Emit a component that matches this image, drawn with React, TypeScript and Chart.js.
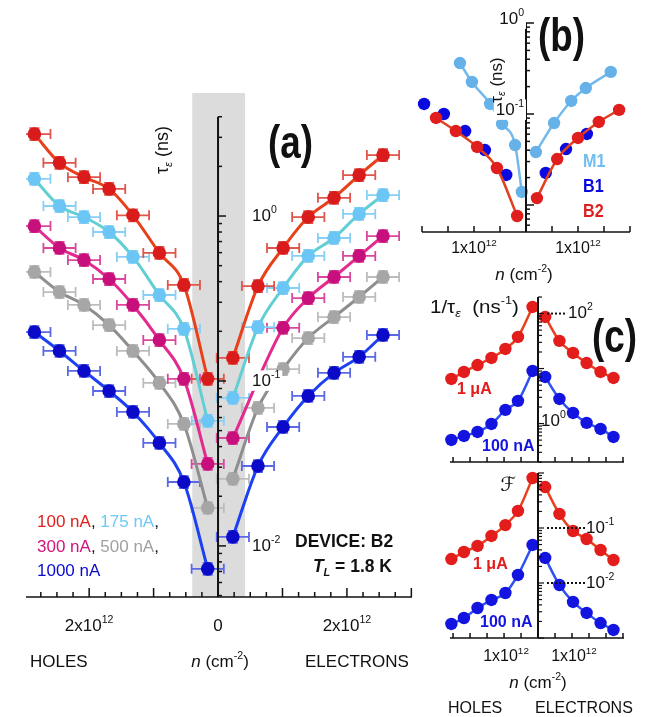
import React, { useEffect, useRef } from "react";
import { Chart, registerables } from "chart.js";
Chart.register(...registerables);

const W = 649;
const H = 717;
const FONT = '"Liberation Sans", Arial, Helvetica, sans-serif';

// ---------------- Panel (a): tau_e vs n, five currents ----------------
const A_X_HOLES = [-2.85, -2.46, -2.08, -1.69, -1.32, -0.91, -0.53, -0.16];
const A_X_ELECTRONS = [0.23, 0.62, 1.01, 1.4, 1.8, 2.19, 2.56];
const A_100NA_HOLES = [3.14, 2.1, 1.72, 1.46, 1.01, 0.597, 0.382, 0.103];
const A_100NA_ELECTRONS = [0.138, 0.376, 0.64, 0.986, 1.29, 1.77, 2.34];
const A_175NA_HOLES = [1.68, 1.15, 0.986, 0.8, 0.565, 0.332, 0.207, 0.0573];
const A_175NA_ELECTRONS = [0.0789, 0.212, 0.366, 0.573, 0.736, 1.03, 1.34];
const A_300NA_HOLES = [0.869, 0.64, 0.541, 0.415, 0.289, 0.177, 0.103, 0.0314];
const A_300NA_ELECTRONS = [0.0451, null, 0.21, 0.318, 0.427, 0.573, 0.756];
const A_500NA_HOLES = [0.458, 0.346, 0.289, 0.218, 0.152, 0.0973, 0.0549, 0.017];
const A_500NA_ELECTRONS = [0.0255, 0.0686, 0.118, 0.182, 0.244, 0.323, 0.427];
const A_1000NA_HOLES = [0.198, 0.152, 0.115, 0.0869, 0.0649, 0.0421, 0.0244, 0.00726];
const A_1000NA_ELECTRONS = [0.01134, 0.0305, 0.0526, 0.0811, 0.112, 0.14, 0.19];
const A_X_ERR = 0.25; // 1e12 cm^-2
const A_Y_ERR = 1.087; // multiplicative
const A_BAND = [-0.4, 0.42];
const A_X_RANGE = [-2.98, 3.01];
const A_Y_RANGE = [0.0049, 5.57];
const A_AXIS_TOP = 4;
const A_X_TICKS = [-2, 0, 2];
const A_Y_TICKS = [1, 0.1, 0.01];

// ---------------- Panel (b): tau_e for three devices ----------------
const B_M1_X_HOLES = [-1.27, -1.04, -0.69, -0.46, -0.21, -0.08];
const B_M1_HOLES = [0.363, 0.225, 0.129, 0.0777, 0.0456, 0.0139];
const B_M1_X_ELECTRONS = [0.19, 0.54, 0.87, 1.15, 1.63];
const B_M1_ELECTRONS = [0.0382, 0.0796, 0.139, 0.193, 0.29];
const B_B1_X_HOLES = [-1.96, -1.58, -1.17, -0.79, -0.38];
const B_B1_HOLES = [0.129, 0.1, 0.065, 0.0402, 0.0214];
const B_B1_X_ELECTRONS = [0.38, 0.77, 1.17];
const B_B1_ELECTRONS = [0.0225, 0.0412, 0.0603];
const B_B2_X_HOLES = [-1.73, -1.35, -0.94, -0.56, -0.17];
const B_B2_HOLES = [0.0904, 0.065, 0.0434, 0.0255, 0.00757];
const B_B2_X_ELECTRONS = [0.21, 0.6, 1.0, 1.4, 1.79];
const B_B2_ELECTRONS = [0.0119, 0.032, 0.0545, 0.0817, 0.111];
const B_X_RANGE = [-2, 2];
const B_Y_RANGE = [0.00505, 1];
const B_X_TICKS = [-1, 1];
const B_Y_TICKS = [1, 0.1];

// ---------------- Panel (c): 1/tau_e and F ----------------
const C_X_HOLES = [-2.55, -2.18, -1.78, -1.37, -0.96, -0.59, -0.16];
const C_X_ELECTRONS = [0.21, 0.63, 1.03, 1.43, 1.84, 2.22];
const C1_1UA_HOLES = [6.47, 8.67, 11.6, 15.6, 22.7, 37.5, 132];
const C1_1UA_ELECTRONS = [86.7, 31.8, 19.2, 12.6, 8.67, 6.75];
const C1_100NA_HOLES = [0.503, 0.595, 0.703, 0.983, 1.77, 2.58, 9.04];
const C1_100NA_ELECTRONS = [7.03, 2.8, 1.56, 1.03, 0.798, 0.571];
const C2_1UA_HOLES = [0.0273, 0.0366, 0.0471, 0.0716, 0.113, 0.204, 0.811];
const C2_1UA_ELECTRONS = [0.556, 0.18, 0.0882, 0.0631, 0.0398, 0.0262];
const C2_100NA_HOLES = [0.0018, 0.00231, 0.00351, 0.00491, 0.00658, 0.014, 0.0491];
const C2_100NA_ELECTRONS = [0.0285, 0.0092, 0.00452, 0.00285, 0.00187, 0.0014];
const C_X_RANGE = [-2.59, 2.53];
const C1_Y_RANGE = [0.2, 200];
const C2_Y_RANGE = [0.001, 1];
const C_X_TICKS = [-1, 1];
const C1_Y_TICKS = [100, 1];
const C2_Y_TICKS = [0.1, 0.01];

// ---------------- colours ----------------
const RED = { pt: "#da1b1b", ln: "#e8401a", eb: "#e0564c", txt: "#e0201c" };
const CYAN = { pt: "#6cc6f5", ln: "#62cfd4", eb: "#88cff6", txt: "#6ccaf5" };
const MAG = { pt: "#c8107c", ln: "#e32a8e", eb: "#d9489c", txt: "#d0147c" };
const GRAY = { pt: "#a6a6a6", ln: "#8e8e8e", eb: "#bdbdbd", txt: "#a0a0a0" };
const BLUE = { pt: "#0a0ac8", ln: "#1d40f2", eb: "#5a68e6", txt: "#0a0ad0" };
const M1C = { pt: "#66b2e8", ln: "#74b9ec", txt: "#72bdf0" };
const B1C = { pt: "#0a0ae0", txt: "#0a0ae0" };
const B2C = { pt: "#e01e1e", ln: "#e2401e", txt: "#e01e1e" };

// chart areas (page pixels)
const A_AREA = { l: 26, t: 93, r: 412, b: 597 };
const B_AREA = { l: 422, t: 23, r: 630, b: 232 };
const C1_AREA = { l: 450, t: 297, r: 624, b: 462 };
const C2_AREA = { l: 450, t: 473, r: 624, b: 638 };

type Seg = { t: string; sup?: boolean; sub?: boolean; italic?: boolean; bold?: boolean; color?: string; family?: string };
type RichOpts = { size: number; bold?: boolean; align?: "left" | "center" | "right"; sx?: number; color?: string; bg?: string; rotate?: number };

function rich(ctx: CanvasRenderingContext2D, segs: Seg[], x: number, y: number, o: RichOpts) {
  const fontFor = (s: Seg) => {
    const sz = s.sup || s.sub ? o.size * 0.62 : o.size;
    const b = s.bold ?? o.bold;
    return `${s.italic ? "italic " : ""}${b ? "bold " : ""}${sz}px ${s.family || FONT}`;
  };
  ctx.save();
  ctx.translate(x, y);
  if (o.rotate) ctx.rotate(o.rotate);
  ctx.scale(o.sx ?? 1, 1);
  ctx.textBaseline = "middle";
  ctx.textAlign = "left";
  let total = 0;
  const widths = segs.map((s) => {
    ctx.font = fontFor(s);
    const w = ctx.measureText(s.t).width;
    total += w;
    return w;
  });
  let cx = o.align === "center" ? -total / 2 : o.align === "right" ? -total : 0;
  if (o.bg) {
    ctx.fillStyle = o.bg;
    ctx.fillRect(cx - 2, -o.size * 0.62, total + 4, o.size * 1.2);
  }
  segs.forEach((s, i) => {
    ctx.font = fontFor(s);
    ctx.fillStyle = s.color || o.color || "#111";
    const dy = s.sup ? -o.size * 0.36 : s.sub ? o.size * 0.32 : 0;
    ctx.fillText(s.t, cx, dy);
    cx += widths[i];
  });
  ctx.restore();
}

const powSegs = (v: number): Seg[] => [{ t: "10" }, { t: String(Math.round(Math.log10(v))), sup: true }];
const xSegs = (v: number): Seg[] => (v === 0 ? [{ t: "0" }] : [{ t: `${Math.abs(v)}x10` }, { t: "12", sup: true }]);

function line(ctx: CanvasRenderingContext2D, x1: number, y1: number, x2: number, y2: number) {
  ctx.beginPath();
  ctx.moveTo(x1, y1);
  ctx.lineTo(x2, y2);
  ctx.stroke();
}

function series(xs: number[], ys: (number | null)[], pt: string, ln: string | null, radius: number, width: number, extra: any = {}) {
  return {
    data: xs.map((x, i) => ({ x, y: ys[i] })),
    showLine: !!ln,
    borderColor: ln || pt,
    borderWidth: width,
    backgroundColor: pt,
    pointBackgroundColor: pt,
    pointBorderColor: pt,
    pointBorderWidth: 0,
    pointRadius: radius,
    cubicInterpolationMode: "monotone",
    spanGaps: true,
    clip: false,
    ...extra,
  };
}

function baseConfig(area: any, xr: number[], yr: number[], datasets: any[], plugin: any) {
  return {
    type: "scatter",
    data: { datasets },
    options: {
      responsive: false,
      animation: false,
      devicePixelRatio: 1,
      events: [],
      layout: { padding: { left: area.l, top: area.t, right: W - area.r, bottom: H - area.b } },
      plugins: { legend: { display: false }, tooltip: { enabled: false }, title: { display: false } },
      scales: {
        x: { type: "linear", min: xr[0], max: xr[1], display: false },
        y: { type: "logarithmic", min: yr[0], max: yr[1], display: false },
      },
    },
    plugins: [plugin],
  };
}

// log ticks on the right of a vertical axis at x0
function logTicks(ctx: CanvasRenderingContext2D, y: any, x0: number, vmin: number, vmax: number, majLen: number, minLen: number) {
  for (let d = -4; d <= 3; d++) {
    for (let m = 1; m <= 9; m++) {
      const v = m * Math.pow(10, d);
      if (v < vmin * 0.999 || v > vmax * 1.001) continue;
      const py = y.getPixelForValue(v);
      line(ctx, x0, py, x0 + (m === 1 ? majLen : minLen), py);
    }
  }
}

function linTicks(ctx: CanvasRenderingContext2D, x: any, ca: any, step: number, majorEvery: number, majLen: number, minLen: number) {
  for (let k = -40; k <= 40; k++) {
    const v = k * step;
    const px = x.getPixelForValue(v);
    if (px < ca.left - 0.6 || px > ca.right + 0.6) continue;
    line(ctx, px, ca.bottom, px, ca.bottom - (k % majorEvery === 0 ? majLen : minLen));
  }
}

// ---------------- panel (a) ----------------
function configA() {
  const mk = (c: any, xs: number[], ys: (number | null)[]) => series(xs, ys, c.pt, c.ln, 6.8, 3, { errColor: c.eb });
  const datasets = [
    mk(GRAY, A_X_HOLES, A_500NA_HOLES),
    mk(GRAY, A_X_ELECTRONS, A_500NA_ELECTRONS),
    mk(BLUE, A_X_HOLES, A_1000NA_HOLES),
    mk(BLUE, A_X_ELECTRONS, A_1000NA_ELECTRONS),
    mk(MAG, A_X_HOLES, A_300NA_HOLES),
    mk(MAG, A_X_ELECTRONS, A_300NA_ELECTRONS),
    mk(CYAN, A_X_HOLES, A_175NA_HOLES),
    mk(CYAN, A_X_ELECTRONS, A_175NA_ELECTRONS),
    mk(RED, A_X_HOLES, A_100NA_HOLES),
    mk(RED, A_X_ELECTRONS, A_100NA_ELECTRONS),
  ];
  const plugin = {
    id: "panelA",
    beforeDatasetsDraw(chart: any) {
      const { ctx, chartArea: ca, scales } = chart;
      const x = scales.x, y = scales.y;
      ctx.save();
      ctx.fillStyle = "#dcdcdc";
      const b1 = x.getPixelForValue(A_BAND[0]);
      const b2 = x.getPixelForValue(A_BAND[1]);
      ctx.fillRect(b1, ca.top, b2 - b1, ca.bottom - ca.top);
      ctx.beginPath();
      ctx.rect(ca.left, 0, ca.right - ca.left, H);
      ctx.clip();
      chart.data.datasets.forEach((ds: any) => {
        ctx.strokeStyle = ds.errColor;
        ctx.lineWidth = 1.8;
        ds.data.forEach((p: any) => {
          if (p.y == null) return;
          const px = x.getPixelForValue(p.x), py = y.getPixelForValue(p.y);
          const xl = x.getPixelForValue(p.x - A_X_ERR), xr = x.getPixelForValue(p.x + A_X_ERR);
          const yt = y.getPixelForValue(p.y * A_Y_ERR), yb = y.getPixelForValue(p.y / A_Y_ERR);
          ctx.beginPath();
          ctx.moveTo(xl, py); ctx.lineTo(xr, py);
          ctx.moveTo(xl, py - 5); ctx.lineTo(xl, py + 5);
          ctx.moveTo(xr, py - 5); ctx.lineTo(xr, py + 5);
          ctx.moveTo(px, yt); ctx.lineTo(px, yb);
          ctx.moveTo(px - 5, yt); ctx.lineTo(px + 5, yt);
          ctx.moveTo(px - 5, yb); ctx.lineTo(px + 5, yb);
          ctx.stroke();
        });
      });
      ctx.restore();
    },
    afterDatasetsDraw(chart: any) {
      const { ctx, chartArea: ca, scales } = chart;
      const x = scales.x, y = scales.y;
      const x0 = x.getPixelForValue(0);
      ctx.save();
      ctx.strokeStyle = "#111";
      ctx.lineWidth = 1.5;
      line(ctx, ca.left, ca.bottom, ca.right, ca.bottom);
      linTicks(ctx, x, ca, 0.25, 4, 9, 5);
      ctx.lineWidth = 2;
      line(ctx, x0, y.getPixelForValue(A_AXIS_TOP), x0, ca.bottom);
      ctx.lineWidth = 1.5;
      logTicks(ctx, y, x0, A_Y_RANGE[0], A_AXIS_TOP, 8, 4);
      A_Y_TICKS.forEach((v) => rich(ctx, powSegs(v), x0 + 34, y.getPixelForValue(v), { size: 17, bg: "#fff" }));
      A_X_TICKS.forEach((v) => rich(ctx, xSegs(v), x.getPixelForValue(v), 626, { size: 17, align: "center" }));
      rich(ctx, [{ t: "HOLES" }], 30, 662, { size: 17 });
      rich(ctx, [{ t: "n", italic: true }, { t: " (cm" }, { t: "-2", sup: true }, { t: ")" }], x0 + 2, 662, { size: 17, align: "center" });
      rich(ctx, [{ t: "ELECTRONS" }], 305, 662, { size: 17 });
      rich(ctx, [{ t: "τ" }, { t: "ε", sub: true, italic: true }, { t: " (ns)" }], 163, 150, { size: 18, align: "center", rotate: -Math.PI / 2 });
      rich(ctx, [{ t: "(a)" }], 268, 145, { size: 46, bold: true, sx: 0.8 });
      rich(ctx, [{ t: "100 nA", color: RED.txt }, { t: ", " }, { t: "175 nA", color: CYAN.txt }, { t: "," }], 37, 522, { size: 17 });
      rich(ctx, [{ t: "300 nA", color: MAG.txt }, { t: ", " }, { t: "500 nA", color: GRAY.txt }, { t: "," }], 37, 547, { size: 17 });
      rich(ctx, [{ t: "1000 nA", color: BLUE.txt }], 37, 571, { size: 17 });
      rich(ctx, [{ t: "DEVICE: B2" }], 295, 542, { size: 17.5, bold: true });
      rich(ctx, [{ t: "T", italic: true }, { t: "L", sub: true, italic: true }, { t: " = 1.8 K" }], 392, 567, { size: 17.5, bold: true, align: "right" });
      ctx.restore();
    },
  };
  return baseConfig(A_AREA, A_X_RANGE, A_Y_RANGE, datasets, plugin);
}

// ---------------- panel (b) ----------------
function configB() {
  const datasets = [
    series(B_B2_X_HOLES, B_B2_HOLES, B2C.pt, B2C.ln, 6.2, 2.5),
    series(B_B2_X_ELECTRONS, B_B2_ELECTRONS, B2C.pt, B2C.ln, 6.2, 2.5),
    series(B_B1_X_HOLES, B_B1_HOLES, B1C.pt, null, 6.2, 0),
    series(B_B1_X_ELECTRONS, B_B1_ELECTRONS, B1C.pt, null, 6.2, 0),
    series(B_M1_X_HOLES, B_M1_HOLES, M1C.pt, M1C.ln, 6.2, 2.5),
    series(B_M1_X_ELECTRONS, B_M1_ELECTRONS, M1C.pt, M1C.ln, 6.2, 2.5),
  ];
  const plugin = {
    id: "panelB",
    afterDatasetsDraw(chart: any) {
      const { ctx, chartArea: ca, scales } = chart;
      const x = scales.x, y = scales.y;
      const x0 = x.getPixelForValue(0);
      ctx.save();
      ctx.strokeStyle = "#111";
      ctx.lineWidth = 1.5;
      line(ctx, ca.left, ca.bottom, ca.right, ca.bottom);
      linTicks(ctx, x, ca, 0.5, 1, 6, 6);
      ctx.lineWidth = 2;
      line(ctx, x0, ca.top, x0, ca.bottom);
      ctx.lineWidth = 1.5;
      logTicks(ctx, y, x0, B_Y_RANGE[0], B_Y_RANGE[1], 8, 4);
      B_Y_TICKS.forEach((v) => rich(ctx, powSegs(v), x0 - 2, y.getPixelForValue(v) - 4, { size: 17, align: "right", bg: "#fff" }));
      B_X_TICKS.forEach((v) => rich(ctx, xSegs(v), x.getPixelForValue(v), 249, { size: 16, align: "center" }));
      rich(ctx, [{ t: "n", italic: true }, { t: " (cm" }, { t: "-2", sup: true }, { t: ")" }], x0 - 2, 275, { size: 17, align: "center" });
      rich(ctx, [{ t: "τ" }, { t: "ε", sub: true, italic: true }, { t: " (ns)" }], 497, 80, { size: 17, align: "center", rotate: -Math.PI / 2 });
      rich(ctx, [{ t: "(b)" }], 538, 38, { size: 46, bold: true, sx: 0.8 });
      rich(ctx, [{ t: "M1", color: M1C.txt }], 583, 162, { size: 19, bold: true, sx: 0.85 });
      rich(ctx, [{ t: "B1", color: B1C.txt }], 583, 187, { size: 19, bold: true, sx: 0.85 });
      rich(ctx, [{ t: "B2", color: B2C.txt }], 583, 212, { size: 19, bold: true, sx: 0.85 });
      ctx.restore();
    },
  };
  return baseConfig(B_AREA, B_X_RANGE, B_Y_RANGE, datasets, plugin);
}

// ---------------- panel (c) ----------------
function configC(top: boolean) {
  const R = { pt: "#e31c1c", ln: "#e8401e" };
  const Bl = { pt: "#1414e0", ln: "#2f52f2" };
  const datasets = top
    ? [
        series(C_X_HOLES, C1_1UA_HOLES, R.pt, R.ln, 6.2, 2.5),
        series(C_X_ELECTRONS, C1_1UA_ELECTRONS, R.pt, R.ln, 6.2, 2.5),
        series(C_X_HOLES, C1_100NA_HOLES, Bl.pt, Bl.ln, 6.2, 2.5),
        series(C_X_ELECTRONS, C1_100NA_ELECTRONS, Bl.pt, Bl.ln, 6.2, 2.5),
      ]
    : [
        series(C_X_HOLES, C2_1UA_HOLES, R.pt, R.ln, 6.2, 2.5),
        series(C_X_ELECTRONS, C2_1UA_ELECTRONS, R.pt, R.ln, 6.2, 2.5),
        series(C_X_HOLES, C2_100NA_HOLES, Bl.pt, Bl.ln, 6.2, 2.5),
        series(C_X_ELECTRONS, C2_100NA_ELECTRONS, Bl.pt, Bl.ln, 6.2, 2.5),
      ];
  const yr = top ? C1_Y_RANGE : C2_Y_RANGE;
  const plugin = {
    id: top ? "panelC1" : "panelC2",
    afterDatasetsDraw(chart: any) {
      const { ctx, chartArea: ca, scales } = chart;
      const x = scales.x, y = scales.y;
      const x0 = x.getPixelForValue(0);
      ctx.save();
      ctx.strokeStyle = "#111";
      ctx.lineWidth = 1.5;
      line(ctx, ca.left, ca.bottom, ca.right, ca.bottom);
      linTicks(ctx, x, ca, 0.5, 1, 5, 5);
      ctx.lineWidth = 2;
      line(ctx, x0, ca.top, x0, ca.bottom);
      ctx.lineWidth = 1.2;
      logTicks(ctx, y, x0, yr[0], yr[1], 6, 4);
      if (top) {
        const p2 = y.getPixelForValue(C1_Y_TICKS[0]);
        ctx.lineWidth = 2;
        ctx.setLineDash([2, 2]);
        line(ctx, x0 + 9, p2, 567, p2);
        ctx.setLineDash([]);
        rich(ctx, powSegs(C1_Y_TICKS[0]), 568, p2, { size: 17 });
        rich(ctx, powSegs(C1_Y_TICKS[1]), x0 + 3, y.getPixelForValue(C1_Y_TICKS[1]) - 2, { size: 17 });
        rich(ctx, [{ t: "1/τ" }, { t: "ε", sub: true, italic: true }, { t: "  (ns" }, { t: "-1", sup: true }, { t: ")" }], 430, 308, { size: 19, sx: 1.08 });
        rich(ctx, [{ t: "(c)" }], 592, 339, { size: 46, bold: true, sx: 0.8 });
        rich(ctx, [{ t: "1 μA", color: R.pt }], 457, 390, { size: 16, bold: true });
        rich(ctx, [{ t: "100 nA", color: Bl.pt }], 482, 447, { size: 16, bold: true });
      } else {
        ctx.lineWidth = 2;
        C2_Y_TICKS.forEach((v) => {
          const p = y.getPixelForValue(v);
          ctx.setLineDash([2, 2]);
          line(ctx, x0 + 9, p, 585, p);
          ctx.setLineDash([]);
          rich(ctx, powSegs(v), 586, p, { size: 17 });
        });
        rich(ctx, [{ t: "ℱ", italic: true, family: '"DejaVu Serif", "DejaVu Sans", serif' }], 508, 486, { size: 20, align: "center" });
        rich(ctx, [{ t: "1 μA", color: R.pt }], 473, 565, { size: 16, bold: true });
        rich(ctx, [{ t: "100 nA", color: Bl.pt }], 480, 623, { size: 16, bold: true });
        C_X_TICKS.forEach((v) => rich(ctx, xSegs(v), x.getPixelForValue(v) + 2, 657, { size: 16, align: "center" }));
        rich(ctx, [{ t: "n", italic: true }, { t: " (cm" }, { t: "-2", sup: true }, { t: ")" }], x0, 683, { size: 17, align: "center" });
        rich(ctx, [{ t: "HOLES" }], 448, 709, { size: 16 });
        rich(ctx, [{ t: "ELECTRONS" }], 535, 709, { size: 16 });
      }
      ctx.restore();
    },
  };
  return baseConfig(top ? C1_AREA : C2_AREA, C_X_RANGE, yr, datasets, plugin);
}

export default function App() {
  const refA = useRef<HTMLCanvasElement>(null);
  const refB = useRef<HTMLCanvasElement>(null);
  const refC1 = useRef<HTMLCanvasElement>(null);
  const refC2 = useRef<HTMLCanvasElement>(null);
  useEffect(() => {
    const charts: Chart[] = [];
    const pairs: [HTMLCanvasElement | null, any][] = [
      [refA.current, configA()],
      [refB.current, configB()],
      [refC1.current, configC(true)],
      [refC2.current, configC(false)],
    ];
    pairs.forEach(([c, cfg]) => {
      if (c) charts.push(new Chart(c, cfg as any));
    });
    return () => charts.forEach((ch) => ch.destroy());
  }, []);
  const cs: React.CSSProperties = { position: "absolute", left: 0, top: 0, width: W, height: H };
  return (
    <div style={{ position: "absolute", left: 0, top: 0, width: W, height: H, background: "#fff", overflow: "hidden" }}>
      <canvas ref={refA} width={W} height={H} style={cs} />
      <canvas ref={refB} width={W} height={H} style={cs} />
      <canvas ref={refC1} width={W} height={H} style={cs} />
      <canvas ref={refC2} width={W} height={H} style={cs} />
    </div>
  );
}
